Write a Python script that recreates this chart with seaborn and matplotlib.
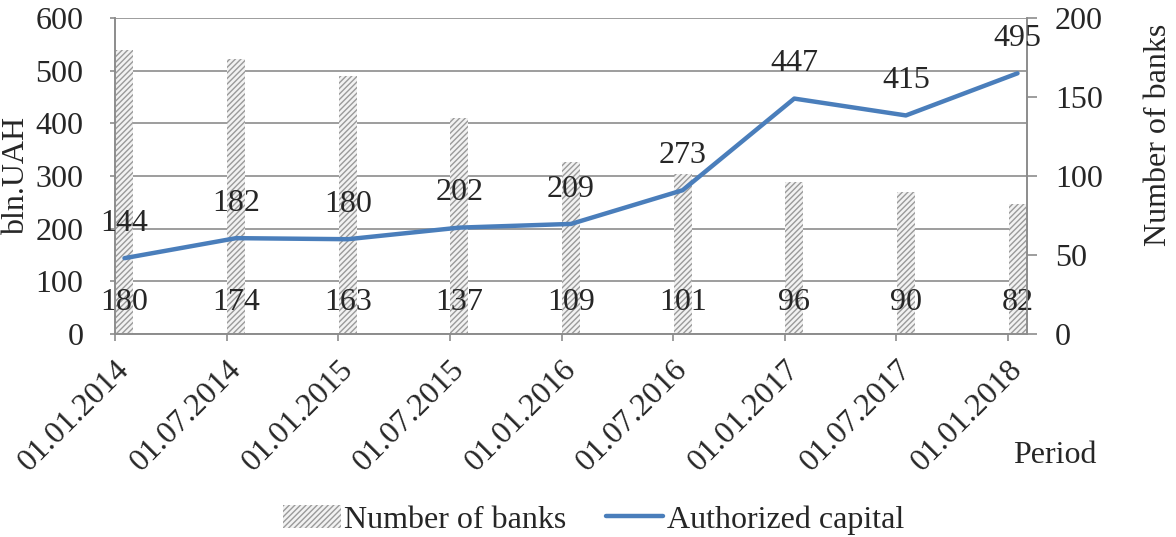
import matplotlib
matplotlib.use("Agg")
import matplotlib.pyplot as plt
from matplotlib.ticker import MultipleLocator
from matplotlib.patches import Patch
from matplotlib.lines import Line2D
import numpy as np
import seaborn as sns

# Data
periods = ["01.01.2014", "01.07.2014", "01.01.2015", "01.07.2015", "01.01.2016",
           "01.07.2016", "01.01.2017", "01.07.2017", "01.01.2018"]
banks = [180, 174, 163, 137, 109, 101, 96, 90, 82]
capital = [144, 182, 180, 202, 209, 273, 447, 415, 495]

sns.set_style("white")
plt.rcParams["font.family"] = ["Liberation Serif", "DejaVu Serif"]
plt.rcParams["hatch.linewidth"] = 1.0

FS = 23
GREY = "#8c8c8c"
HATCH = "#9a9a9a"
BLUE = "#4a7ebb"

fig = plt.figure(figsize=(11.76, 5.37), dpi=100)
ax = fig.add_axes([0.0978, 0.378, 0.7755, 0.5885])
ax2 = ax.twinx()

pos = np.arange(len(periods))

# bars on the right axis (drawn behind)
sns.barplot(x=pos, y=banks, ax=ax2, native_scale=True, width=0.16,
            color="white", linewidth=0, zorder=2)
for p in ax2.patches:
    p.set_hatch("//////")
    p.set_edgecolor(HATCH)
    p.set_facecolor("#f2f2f2")

# line on the left axis
sns.lineplot(x=pos, y=capital, ax=ax, color=BLUE, linewidth=3.2, zorder=3)

ax.set_zorder(ax2.get_zorder() + 1)
ax.patch.set_visible(False)

ax.set_xlim(-0.085, len(periods) - 1 + 0.085)
ax.set_ylim(0, 600)
ax2.set_ylim(0, 200)

ax.set_yticks(range(0, 601, 100))
ax2.set_yticks(range(0, 201, 50))
ax.set_xticks(pos - 0.085)
ax.set_xticklabels(periods, rotation=45, ha="right", va="top",
                   rotation_mode="anchor", fontsize=FS)

# gridlines (every 100 bln) placed on the bar axes behind the bars
ax2.yaxis.set_minor_locator(MultipleLocator(200 / 6))
ax2.yaxis.remove_overlapping_locs = False
ax2.grid(which="minor", axis="y", color=GREY, linewidth=1.2)
ax2.set_axisbelow(True)
ax2.tick_params(axis="y", which="minor", length=0)
ax.grid(False)

for a in (ax, ax2):
    for s in a.spines.values():
        s.set_color(GREY)
        s.set_linewidth(1.2)
    a.spines["top"].set_visible(False)

ax.tick_params(axis="y", left=True, length=3.6, width=1.2, color=GREY,
               labelsize=FS, pad=19)
ax.tick_params(axis="x", bottom=True, length=5, width=1.2, color=GREY,
               labelsize=FS, pad=10)
ax2.tick_params(axis="y", which="major", right=True, length=7, width=1.2,
                color=GREY, labelsize=FS, pad=13)
ax2.tick_params(axis="x", bottom=False, labelbottom=False)

ax.set_ylabel("bln.UAH", fontsize=FS)
ax.yaxis.set_label_coords(-0.092, 0.5)
ax2.set_ylabel("Number of banks", fontsize=FS)
ax2.yaxis.set_label_coords(1.128, 0.63)
ax.set_xlabel("Period", fontsize=FS)
ax.xaxis.set_label_coords(1.031, -0.339)

# data labels
for x, v in zip(pos, capital):
    ax.annotate(str(v), (x, v), xytext=(0, 25), textcoords="offset points",
                ha="center", va="center", fontsize=FS)
for x, v in zip(pos, banks):
    ax2.annotate(str(v), (x, 0), xytext=(0, 23), textcoords="offset points",
                 ha="center", va="center", fontsize=FS)

handles = [Patch(facecolor="#f2f2f2", edgecolor=HATCH, hatch="//////", linewidth=0),
           Line2D([0], [0], color=BLUE, linewidth=3.2)]
fig.legend(handles, ["Number of banks", "Authorized capital"], loc="center",
           bbox_to_anchor=(0.5047, 0.032), ncol=2, frameon=False, fontsize=FS,
           handlelength=1.8, handletextpad=0.1, columnspacing=1.25)

fig.savefig("out.png", dpi=100)
